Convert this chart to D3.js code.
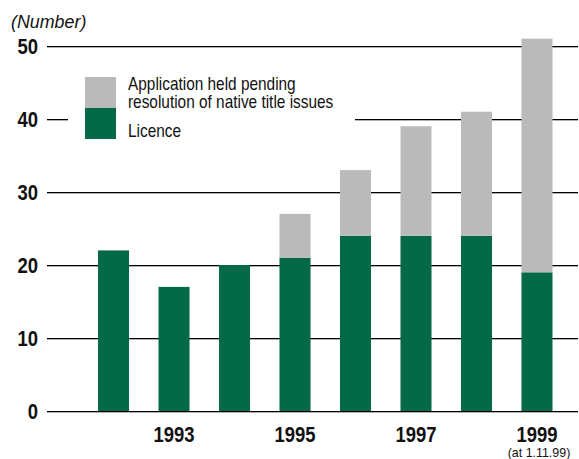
<!DOCTYPE html>
<html>
<head>
  <script src="https://d3js.org/d3.v7.min.js"></script>
  <style>
    body { margin: 0; background: #fff; }
    svg { display: block; }
    text { font-family: "Liberation Sans", Arial, sans-serif; fill: #111; }
    .yaxis text, .xaxis text { font-weight: bold; font-size: 22px; }
    .legend text { font-size: 17.5px; }
  </style>
</head>
<body>
  <div id="chart"></div>
  <script>
    var w = 579;
    var h = 459;

    var years = [1992, 1993, 1994, 1995, 1996, 1997, 1998, 1999];
    var licence = [22, 17, 20, 21, 24, 24, 24, 19];
    var pending = [0, 0, 0, 6, 9, 15, 17, 32];
    var yTicks = [0, 10, 20, 30, 40, 50];
    var xLabels = [1993, 1995, 1997, 1999];
    var seriesNames = ["Application held pending", "resolution of native title issues", "Licence"];

    var green = "#036947";
    var grey = "#bababa";
    var narrow = 0.84; // condensed look for bold labels

    var svg = d3.select("#chart").append("svg")
      .attr("width", w)
      .attr("height", h);

    var xScale = d3.scaleBand().domain(years).range([98, 552.5]).paddingInner(0.487).paddingOuter(0);
    var yScale = d3.scaleLinear().domain([0, 50]).range([411, 46]);

    // gridlines (black with a light shadow under)
    svg.selectAll(".shadow").data(yTicks).enter().append("line")
      .attr("class", "shadow")
      .attr("x1", 47).attr("x2", 578)
      .attr("y1", d => Math.round(yScale(d)) + 1.5)
      .attr("y2", d => Math.round(yScale(d)) + 1.5)
      .attr("stroke", "#b0b0b0").attr("stroke-width", 1);

    var yAxis = d3.axisLeft(yScale).tickValues(yTicks).tickSize(-(578 - 47)).tickPadding(9);
    var yAxisGroup = svg.append("g")
      .attr("class", "yaxis")
      .attr("transform", "translate(47,0.5)")
      .call(yAxis);
    yAxisGroup.select(".domain").remove();
    yAxisGroup.selectAll(".tick").attr("transform", d => "translate(0," + Math.round(yScale(d)) + ")");
    yAxisGroup.selectAll("line").attr("stroke", "#000").attr("stroke-width", 1);
    yAxisGroup.selectAll("text")
      .attr("x", -9 / narrow)
      .attr("dy", "0.36em")
      .attr("transform", "scale(" + narrow + ",1)")
      .attr("fill", "#111");

    // stacked bars
    var data = years.map((y, i) => ({ year: y, licence: licence[i], pending: pending[i] }));

    svg.selectAll(".barLicence").data(data).enter().append("rect")
      .attr("class", "barLicence")
      .attr("x", d => xScale(d.year))
      .attr("width", xScale.bandwidth())
      .attr("y", d => yScale(d.licence))
      .attr("height", d => yScale(0) - yScale(d.licence))
      .attr("fill", green);

    svg.selectAll(".barPending").data(data.filter(d => d.pending > 0)).enter().append("rect")
      .attr("class", "barPending")
      .attr("x", d => xScale(d.year))
      .attr("width", xScale.bandwidth())
      .attr("y", d => yScale(d.licence + d.pending))
      .attr("height", d => yScale(d.licence) - yScale(d.licence + d.pending))
      .attr("fill", grey);

    // x axis labels
    var xAxis = d3.axisBottom(xScale).tickValues(xLabels).tickSize(0).tickPadding(0);
    var xAxisGroup = svg.append("g")
      .attr("class", "xaxis")
      .attr("transform", "translate(0,442)")
      .call(xAxis);
    xAxisGroup.select(".domain").remove();
    xAxisGroup.selectAll("text")
      .attr("dy", 0).attr("y", 0)
      .attr("transform", "scale(" + narrow + ",1)")
      .attr("fill", "#111");

    svg.append("text")
      .attr("transform", "translate(" + (xScale(1999) + xScale.bandwidth() / 2 + 2) + ",457) scale(0.92,1)")
      .attr("text-anchor", "middle")
      .style("font-size", "13.5px")
      .text("(at 1.11.99)");

    svg.append("text")
      .attr("transform", "translate(11,28) scale(0.94,1)")
      .style("font-size", "19px")
      .style("font-style", "italic")
      .text("(Number)");

    // legend
    var legend = svg.append("g").attr("class", "legend");
    legend.append("rect")
      .attr("x", 68).attr("y", 70).attr("width", 287).attr("height", 76)
      .attr("fill", "#fff");
    legend.append("rect")
      .attr("x", 85).attr("y", 77).attr("width", 31).attr("height", 31)
      .attr("fill", grey);
    legend.append("rect")
      .attr("x", 85).attr("y", 108).attr("width", 31).attr("height", 31)
      .attr("fill", green);
    var legendRows = [90, 107.5, 137];
    legend.selectAll(".legendLabel").data(seriesNames).enter().append("text")
      .attr("class", "legendLabel")
      .attr("transform", (d, i) => "translate(128," + legendRows[i] + ") scale(0.88,1)")
      .text(d => d);
  </script>
</body>
</html>
